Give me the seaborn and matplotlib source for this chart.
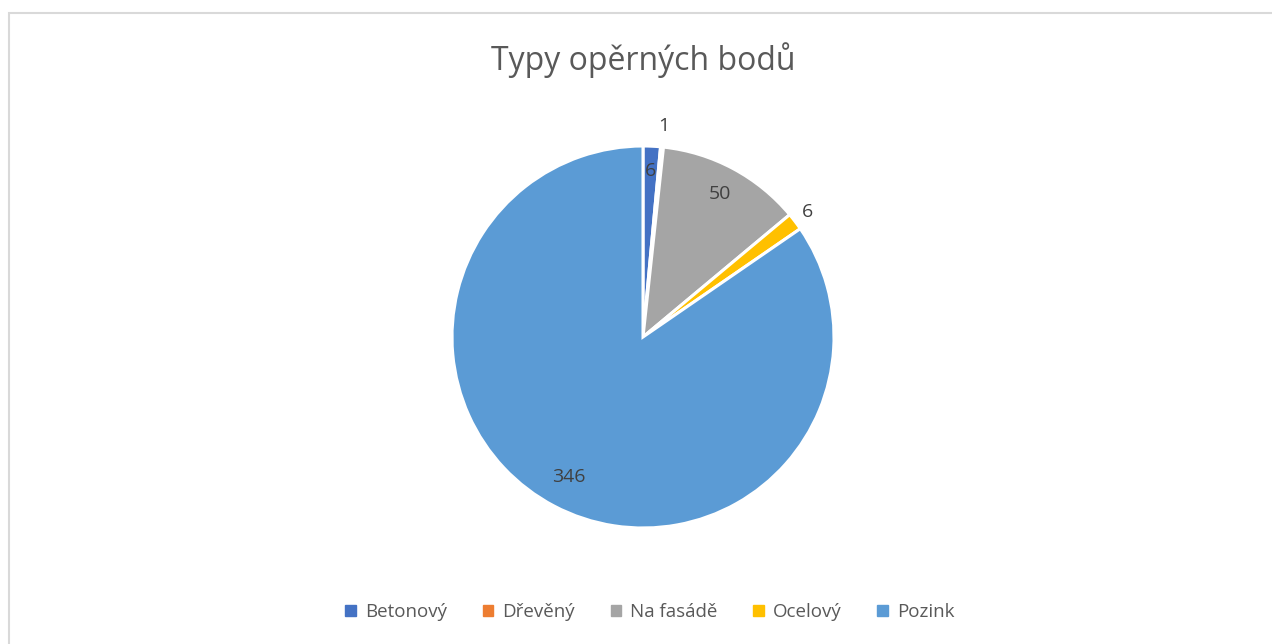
import numpy as np
import matplotlib
matplotlib.use('Agg')
import matplotlib.pyplot as plt
import seaborn as sns
from matplotlib.patches import Rectangle

sns.set_theme(style='white')
plt.rcParams['font.family'] = ['Open Sans', 'DejaVu Sans']

# data
categories = ['Betonový', 'Dřevěný', 'Na fasádě', 'Ocelový', 'Pozink']
values = [6, 1, 50, 6, 346]
colors = ['#4472C4', '#ED7D31', '#A5A5A5', '#FFC000', '#5B9BD5']
label_dist = [0.87, 1.11, 0.85, 1.08, 0.83]

fig = plt.figure(figsize=(12.72, 6.44), dpi=100)

# chart frame
fig.patches.append(Rectangle((9 / 1272, -0.1), 1.2, (644 - 13) / 644 + 0.1,
                             transform=fig.transFigure, fill=False,
                             edgecolor='#D9D9D9', linewidth=1.5))

cx, cy, r = 643, 337, 191
ax = fig.add_axes([(cx - r) / 1272, (644 - cy - r) / 644, 2 * r / 1272, 2 * r / 644])
wedges, _ = ax.pie(values, colors=colors, startangle=90, counterclock=False,
                   radius=1, wedgeprops=dict(edgecolor='white', linewidth=2.2))
ax.set_xlim(-1, 1)
ax.set_ylim(-1, 1)
ax.set_aspect('equal')
ax.axis('off')

for w, v, d in zip(wedges, values, label_dist):
    ang = np.deg2rad((w.theta1 + w.theta2) / 2)
    ax.text(d * np.cos(ang), d * np.sin(ang), str(v), ha='center', va='center',
            fontsize=14, color='#404040')

fig.text(643 / 1272, 1 - 60 / 644, 'Typy opěrných bodů', ha='center', va='center',
         fontsize=23, color='#595959')

handles = [Rectangle((0, 0), 1, 1, color=c) for c in colors]
fig.legend(handles, categories, loc='center', bbox_to_anchor=(650 / 1272, 1 - 612 / 644),
           ncol=5, frameon=False, fontsize=13.5, labelcolor='#595959',
           handlelength=0.55, handleheight=0.55, handletextpad=0.5, columnspacing=1.9)

fig.savefig('out.png', dpi=100)
